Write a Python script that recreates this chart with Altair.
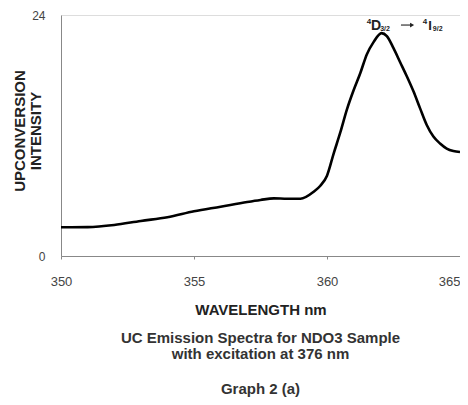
import altair as alt
import pandas as pd

wavelength = [350, 351, 352, 353, 354, 355, 356, 357, 357.5, 358, 358.5, 359, 359.5,
              359.75, 360, 360.25, 360.5, 360.75, 361, 361.25, 361.5, 361.75, 362.05,
              362.25, 362.5, 362.75, 363, 363.25, 363.5, 363.75, 364, 364.25, 364.5,
              364.75, 365]
intensity = [2.86, 2.88, 3.09, 3.49, 3.85, 4.45, 4.91, 5.38, 5.58, 5.74, 5.70, 5.70, 6.4,
             7.0, 8.0, 10.2, 12.3, 14.6, 16.5, 18.2, 20.1, 21.3, 22.2,
             21.9, 20.7, 19.3, 17.9, 16.4, 14.7, 13.05, 11.9, 11.2, 10.7,
             10.45, 10.35]

x_ticks = [350, 355, 360, 365]
y_ticks = [0, 24]

df = pd.DataFrame({"wl": wavelength, "val": intensity})

W, H = 399, 241
FONT = "Liberation Sans"

x_scale = alt.Scale(domain=[350, 365], nice=False, zero=False)
y_scale = alt.Scale(domain=[0, 24], nice=False)

line = alt.Chart(df).mark_line(color="black", strokeWidth=2.6, interpolate="monotone").encode(
    x=alt.X("wl:Q", scale=x_scale,
            axis=alt.Axis(values=x_ticks, title="WAVELENGTH nm", grid=False,
                          labelFont=FONT, labelFontSize=13, labelColor="#444",
                          labelFlush=False,
                          labelAlign=alt.expr("datum.value >= 365 ? 'right' : 'center'"),
                          labelPadding=16, tickSize=3, tickColor="#888",
                          domainColor="#888", titleFont=FONT, titleFontSize=15,
                          titleFontWeight="bold", titleColor="#222", titlePadding=14)),
    y=alt.Y("val:Q", scale=y_scale,
            axis=alt.Axis(values=y_ticks, title=None, grid=False,
                          labelFont=FONT, labelFontSize=12, labelColor="#444",
                          labelPadding=16, tickSize=0, domainColor="#888")),
)

# transition label pieces
ann = pd.DataFrame({
    "x": [361.58, 361.84, 362.18, 363.68, 363.87, 364.16],
    "y": [23.3, 22.9, 22.6, 23.3, 22.9, 22.6],
    "t": ["4", "D", "3/2", "4", "I", "9/2"],
    "s": [8, 14, 7, 8, 13, 7],
})
annot = alt.Chart(ann).mark_text(font=FONT, fontWeight="bold", color="#222").encode(
    x=alt.X("x:Q", scale=x_scale), y=alt.Y("y:Q", scale=y_scale), text="t:N",
    size=alt.Size("s:Q", scale=None, legend=None))

arrow_df = pd.DataFrame({"x": [362.78], "x2": [363.2], "y": [23.0]})
arrow_line = alt.Chart(arrow_df).mark_rule(color="#333", strokeWidth=1.2).encode(
    x=alt.X("x:Q", scale=x_scale), x2="x2:Q", y=alt.Y("y:Q", scale=y_scale))
arrow_head = alt.Chart(arrow_df).mark_point(shape="triangle-right", filled=True, color="#222",
                                            size=22, opacity=1).encode(
    x=alt.X("x2:Q", scale=x_scale), y=alt.Y("y:Q", scale=y_scale))

ytitle = pd.DataFrame({"t": ["UPCONVERSION", "INTENSITY"], "px": [-41, -25]})
ytit = alt.Chart(ytitle).mark_text(font=FONT, fontSize=15, fontWeight="bold", color="#222",
                                   angle=270, baseline="middle").encode(
    x=alt.X("px:Q", scale=None), y=alt.value(116), text="t:N")

captions = pd.DataFrame({
    "t": ["UC Emission Spectra for NDO3 Sample", "with excitation at 376 nm", "Graph 2 (a)"],
    "py": [323, 339, 374],
})
cap = alt.Chart(captions).mark_text(font=FONT, fontSize=15, fontWeight="bold", color="#333",
                                    baseline="middle").encode(
    x=alt.value(W / 2), y=alt.Y("py:Q", scale=None), text="t:N")

chart = alt.layer(line, annot, arrow_line, arrow_head, ytit, cap).properties(
    width=W, height=H,
    autosize=alt.AutoSizeParams(type="none"),
    padding={"left": 53, "top": 7, "right": 0, "bottom": 141},
).configure_view(stroke="#888", strokeWidth=1).configure(background="white")

chart.save("out.html", embed_options={"renderer": "svg", "actions": False})
